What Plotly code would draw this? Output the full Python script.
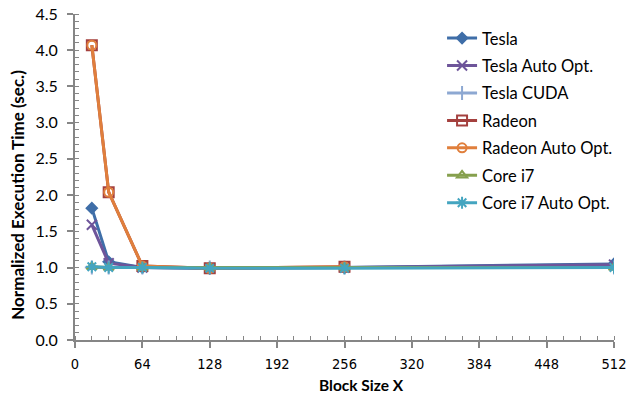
import plotly.graph_objects as go

# Block sizes along X
block_x = [16, 32, 64, 128, 256, 512]

# Normalized execution times per device/configuration
tesla = [1.82, 1.08, 1.00, 0.99, 1.00, 1.05]
tesla_auto = [1.59, 1.06, 1.00, 0.99, 1.00, 1.04]
tesla_cuda = [1.00, 1.00, 1.00, 1.00, 1.00, 1.00]
radeon = [4.07, 2.04, 1.02, 0.99, 1.01, None]
radeon_auto = [4.07, 2.04, 1.02, 0.99, 1.01, None]
core_i7 = [1.01, 1.00, 1.00, 1.00, 1.00, 1.00]
core_i7_auto = [1.01, 1.00, 1.00, 0.99, 0.99, 1.00]

x_ticks = [0, 64, 128, 192, 256, 320, 384, 448, 512]

series = [
    ("Tesla", tesla, "#3F6EA8", "diamond", 8),
    ("Tesla Auto Opt.", tesla_auto, "#6E559A", "x-thin-open", 10),
    ("Tesla CUDA", tesla_cuda, "#8DA8D2", "cross-thin-open", 10),
    ("Radeon", radeon, "#A4403E", "square-open", 10),
    ("Radeon Auto Opt.", radeon_auto, "#E07F3C", "circle-open", 9),
    ("Core i7", core_i7, "#86A04E", "triangle-up-open", 9),
    ("Core i7 Auto Opt.", core_i7_auto, "#44A5C0", "asterisk-open", 10),
]

fig = go.Figure()
for name, vals, color, symbol, size in series:
    fig.add_trace(go.Scatter(
        x=block_x, y=vals, name=name, legendgroup=name, mode="lines+markers",
        line=dict(color=color, width=3),
        marker=dict(symbol=symbol, size=size, color=color,
                    line=dict(color=color, width=2)),
        connectgaps=False,
    ))

axis_color = "#868686"
fig.update_layout(
    width=630, height=394,
    margin=dict(l=75, r=16, t=14, b=54),
    paper_bgcolor="white", plot_bgcolor="white",
    font=dict(family="Lato, Open Sans, sans-serif", color="#000000", size=16),
    showlegend=True,
    legend=dict(x=0.681, y=0.979, xanchor="left", yanchor="top",
                font=dict(size=16.5), tracegroupgap=3, itemwidth=30,
                bgcolor="rgba(0,0,0,0)"),
    xaxis=dict(
        range=[0, 512], tickvals=x_ticks, ticktext=[str(v) for v in x_ticks],
        automargin=False,
        showgrid=False, zeroline=False, showline=True, linecolor=axis_color,
        linewidth=2, ticks="outside", ticklen=6, tickwidth=1.5, tickcolor=axis_color,
        minor=dict(dtick=16, ticks="inside", ticklen=4, tickcolor=axis_color, tickwidth=1),
        ticklabelstandoff=4,
        tickfont=dict(family="DejaVu Sans Condensed, Roboto, sans-serif", size=14.5),
    ),
    yaxis=dict(
        range=[0, 4.5], dtick=0.5, tickformat=".1f",
        automargin=False,
        showgrid=False, zeroline=False, showline=True, linecolor=axis_color,
        linewidth=2, ticks="outside", ticklen=6, tickwidth=1.5, tickcolor=axis_color,
        minor=dict(dtick=0.1, ticks="inside", ticklen=4, tickcolor=axis_color, tickwidth=1),
        ticklabelstandoff=6,
        tickfont=dict(size=16),
    ),
    annotations=[
        dict(text="<b>Block Size X</b>", xref="paper", yref="paper",
             x=0.532, y=-0.137, xanchor="center", yanchor="middle",
             showarrow=False, font=dict(size=15.5)),
        dict(text="<b>Normalized Execution Time (sec.)</b>", xref="paper", yref="paper",
             x=-0.106, y=0.445, xanchor="center", yanchor="middle", textangle=-90,
             showarrow=False, font=dict(size=17)),
    ],
)

fig.write_html("out.html")
